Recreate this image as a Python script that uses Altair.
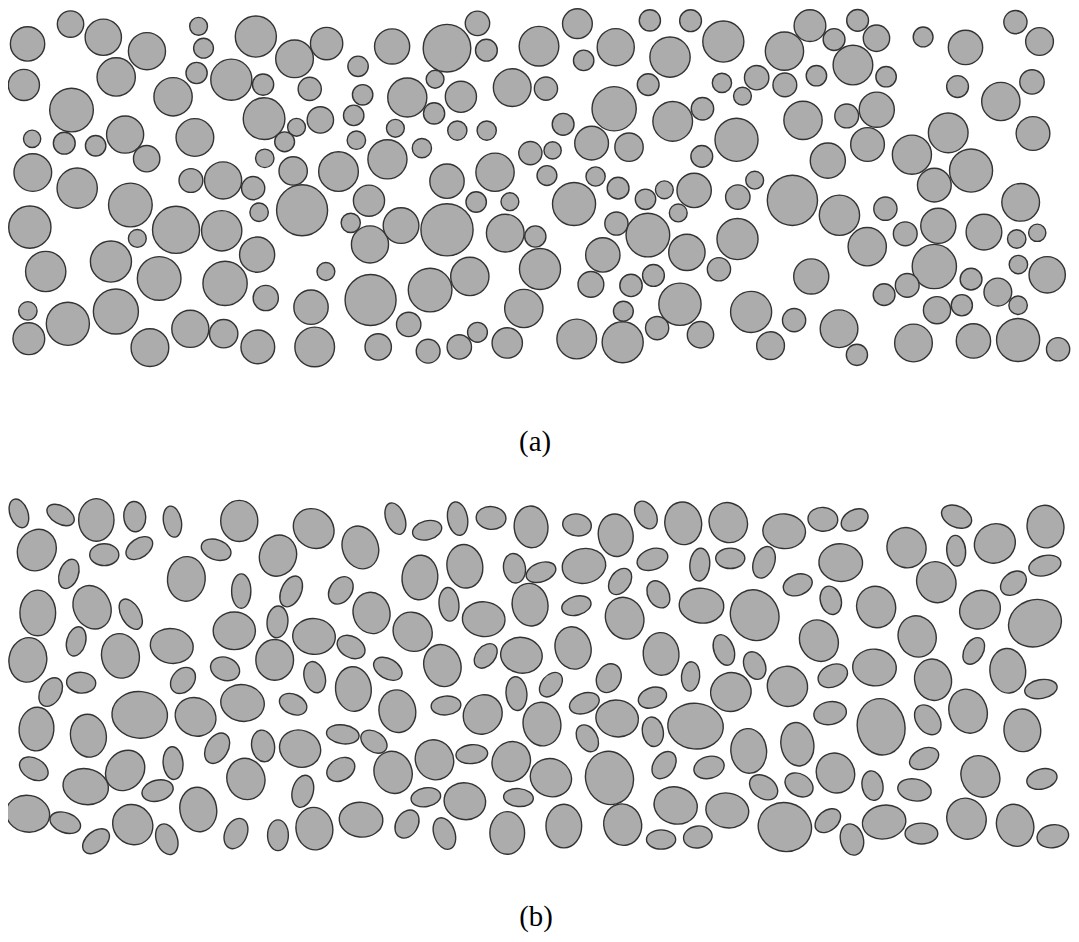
import altair as alt
import pandas as pd

# ---------------- panel (a): circles (centre x, centre y, radius) in image px
a_x = [27.7, 71, 104, 148, 200, 205, 257.7, 24, 117, 198, 233, 265, 174.3, 72, 266, 32.3, 64.7, 96.3, 126, 196.3,
       147.7, 266.7, 33, 77.7, 192.3, 224.7, 255, 131.3, 30, 177.3, 223.3, 261, 138.3, 46, 111.7, 160.3, 226.7, 259,
       267.7, 28, 68.3, 116.7, 29, 151, 191.7, 225.3, 259.7,
       296.7, 329, 395, 450.3, 481, 490, 543, 312, 360.7, 365.3, 410.3, 438.3, 464.3, 437.3, 516, 550, 298.7, 322.7,
       356.3, 398.3, 460.7, 490.3, 286.7, 359, 295.3, 341, 390.3, 425, 450.3, 498.7, 534.3, 551, 304.3, 371.7, 353.3,
       372.7, 404, 450.3, 479.7, 513.7, 509, 539.3, 328.3, 373.3, 433.3, 473.3, 544, 527.7, 313.3, 317, 411.7, 381,
       431.3, 462.7, 481, 511,
       581.7, 620.3, 588, 654.7, 695.7, 675, 728.7, 790.3, 816, 653, 618.7, 727.3, 762.3, 748, 790.7, 822.5, 567.3,
       677.7, 707.7, 809, 596, 633.7, 556.7, 742, 707, 834, 600, 622.7, 578.3, 650.3, 669.3, 699.3, 683.3, 743.3,
       760.3, 798.3, 621, 652.7, 692, 743, 607.3, 595.3, 635.7, 658.3, 724.3, 817.3, 628, 685, 756.7, 800, 581,
       627.3, 662, 705.7, 776.3,
       864, 840.3, 883, 859.3, 892.7, 930, 972.7, 1023, 1047.3, 964.7, 1008.3, 1039.7, 853, 883.3, 874, 955.3,
       1040.7, 918.7, 978.3, 941.3, 845.7, 892, 1028.3, 873.7, 912, 945.3, 991.3, 1024.3, 1045, 941.3, 1026, 1055,
       890.7, 914, 978.3, 1005.3, 1025.7, 944, 969, 845.3, 863.3, 920.3, 980.7, 1025.7, 1066]
a_y = [40.7, 20.7, 34, 48, 23, 45, 33.3, 82, 74, 70, 76.7, 81.7, 94, 107.3, 116, 136.3, 140.7, 143.3, 132, 135,
       156.3, 156, 170.3, 186, 178.3, 178.3, 186, 203, 225.3, 228, 229, 210.3, 236.7, 270, 260, 277, 282, 253,
       296.7, 309.7, 322.7, 310.3, 337.7, 346.7, 327.7, 332.7, 346,
       55.7, 40.3, 43.3, 45, 20, 47, 43, 86, 63.3, 92, 94.7, 76.3, 94, 110.7, 84.7, 85.7, 124.7, 117.3,
       112.7, 125.7, 128, 128, 139.3, 137.7, 168.7, 169.3, 157, 145.7, 179, 170, 150.7, 173.3, 208.3, 198.7, 221,
       242.7, 223.7, 228, 200, 199.7, 231.3, 234.7, 270, 298.7, 288.7, 275, 267.5, 307.3, 306, 346, 323.3, 346,
       350.3, 346, 331.3, 342,
       20.3, 44, 57.3, 17, 17.3, 54, 38.3, 48, 22.3, 81.7, 106, 80, 74.7, 93.3, 82, 72.7, 121.7,
       118.7, 106, 117.7, 140.7, 144.7, 148, 137.3, 154, 158.3, 174.3, 186, 202, 197.3, 187.7, 188.3, 211, 195,
       178, 198.3, 221.7, 233.3, 250.7, 237.3, 253.3, 283, 284, 274, 267.7, 275, 310, 303, 310.7, 319, 338,
       341.3, 327, 333.7, 344.7,
       17, 36.3, 35, 62, 73.7, 33.7, 44.3, 18.7, 38.3, 83.7, 98.7, 79, 113.3, 107, 142, 130.3,
       131, 152.3, 168.3, 183, 213.3, 206.7, 200.3, 245, 232, 224, 230.3, 237.3, 231, 265, 263, 273.3,
       293.3, 284, 277.7, 290.7, 304, 309, 304, 327.7, 354, 342, 340, 339, 348.3]
a_r = [17.3, 13.3, 18.3, 18.7, 9, 10, 20.7, 15.7, 19.3, 10.7, 20.7, 10.7, 19.3, 22, 21, 8.7, 11, 10.3, 18.7, 19,
       13.3, 9.3, 19, 20.3, 12, 18.7, 11.7, 22, 21.3, 23.7, 20.3, 9.3, 9, 20.3, 20.7, 22, 22.3, 17.7,
       12.7, 9.3, 21.7, 22.7, 16, 19, 18.7, 14.3, 17,
       19, 16.3, 17.7, 24, 12.3, 11, 20, 11.7, 10.3, 10.3, 19.7, 9, 15.7, 10.7, 19, 11.7, 9, 13.3,
       10.3, 9, 9.7, 9.7, 10, 9.3, 14.3, 20, 19.7, 9.7, 17.3, 19.3, 11.7, 10, 25.7, 15.7, 9.7,
       18.7, 18, 26.3, 10.3, 9, 19, 10.7, 9, 25.7, 22, 19.3, 20.7, 19.3, 17.3, 20, 12.3, 13.3,
       12, 12.3, 10, 15.3,
       15, 18.7, 10.3, 10.7, 11, 20.3, 20.7, 19.3, 16, 11, 22.3, 9.7, 12.3, 9, 12, 10.3, 11,
       20, 11.3, 19.3, 17, 14.3, 8.7, 21.7, 11, 17.7, 9.7, 11, 21.7, 10.3, 9, 17.3, 9, 12.3,
       9, 25.3, 11.7, 22, 18.3, 20.7, 17.3, 13, 11.3, 11, 11.7, 17.7, 10, 21.3, 20.7, 11.7, 20,
       20.7, 11.7, 13.3, 14,
       11, 11, 13.3, 20, 10.3, 10, 17.3, 11.7, 14, 11, 19.3, 12.3, 12, 17.7, 17, 20,
       17, 19.7, 21.7, 17, 20.3, 11.7, 19, 19.3, 12, 17.7, 18, 9.3, 8.7, 22.3, 9.3, 18.3,
       11, 12, 11, 14, 9.3, 13.7, 10.7, 19, 10.7, 19, 17.3, 21.7, 11.7]

# ---------------- panel (b): ellipses (centre, semi-major, semi-minor, clockwise angle of major axis)
b_x = [19, 61, 97, 135.7, 173.7, 241, 37, 105, 140.3, 217.7, 69.3, 187.7, 243, 280, 38, 92.7, 131.7, 236, 279.5,
       76.7, 28, 121.3, 173, 226.7, 276.7, 51, 81.7, 184.3, 244.3, 140.7, 197, 36.7, 89, 218.7, 265, 34, 174.3,
       126, 86.3, 158.7, 247.7, 28, 65.7, 133.7, 199.7, 96.7, 168, 237.7, 280,
       316, 363, 398.3, 430.3, 461, 494.7, 535, 293.3, 343.3, 423, 468.3, 518.3, 545, 316.3, 374.3, 452.3, 487.3,
       534, 415.7, 353.7, 445.7, 489.3, 525.3, 317, 390.7, 356, 295.3, 400.3, 449.3, 486.3, 520.3, 302.3, 345.3,
       376.7, 343.3, 396, 437.7, 475.3, 515, 305, 429, 468.3, 522.3, 316.7, 363.7, 410, 447.7, 511,
       555, 546, 555,
       581.3, 620.3, 650.7, 688.3, 733.7, 790, 588.3, 657.3, 705, 735.7, 769.7, 624.7, 803.7, 580.7, 629.3, 663.3,
       706.7, 760.3, 825, 577.3, 666, 729.3, 760.3, 613.3, 695.7, 736.3, 793.3, 588.7, 621.7, 657.3, 700.7, 591.7,
       657.7, 754.3, 803.3, 614, 669, 714.3, 769.3, 805, 680.7, 732.7, 568, 627.3, 666, 703, 790.7,
       829, 861, 913.3, 963.7, 963.3, 1002.3, 1053.3, 847, 943.3, 1021, 1052.7, 837, 882.7, 987.3, 1042.7, 924,
       981, 839, 881, 940, 1015.3, 1048.7, 836.3, 887.7, 934.7, 975.3, 1030, 841.7, 931, 987.7, 879, 921.3,
       1049.7, 834, 858.3, 890.7, 928.3, 973.7, 1022.7, 1060.7]
b_y = [515.7, 517.3, 522.3, 519, 524, 523.3, 552.7, 557.3, 550.7, 552.3, 576.7, 581.7, 594, 558.3, 616, 610.3,
       617.3, 634, 625, 644.7, 663.3, 659.3, 649.3, 672.3, 663.3, 695.7, 686.3, 684, 706.7, 718.7, 720.7, 733,
       739.7, 752.3, 750, 773, 767.3, 774.7, 791, 795, 783.3, 818.3, 827.3, 829.3, 814, 846, 844, 838.3, 840,
       531, 550, 521, 532.7, 521, 520.3, 529.3, 594.3, 593.3, 580.3, 569, 571, 575, 639.7, 616, 607.3, 622.3,
       607.7, 635, 650.3, 669, 659.3, 658.7, 680.7, 672.3, 692.7, 708, 715, 709.3, 718.3, 697.3, 752.7, 738.3,
       745.7, 773.7, 776.7, 764, 758.3, 765.7, 795.7, 801.7, 805.7, 802, 833.3, 824.3, 828.7, 838.3, 837.7,
       688.3, 728, 782,
       527.3, 537.7, 517.3, 525.7, 525, 533.7, 568.7, 562, 567.3, 561, 565, 584.3, 587.7, 608.7, 621.3, 597.3,
       608.7, 618.3, 644, 651.3, 657.3, 653.3, 669, 681.7, 680, 695.7, 690, 707, 722.3, 701.3, 730, 742.3,
       735.7, 755, 748.3, 782.3, 769.3, 771.7, 791.7, 789.3, 810, 815, 830.7, 829.3, 844.3, 841.7, 831.7,
       521.7, 522.3, 550.3, 519, 553.3, 546, 529, 565.3, 585, 586, 568.3, 603.3, 610, 612.7, 626.3, 639.7,
       654.3, 679.3, 671, 683.3, 674.3, 692.7, 717, 730.7, 723.7, 715, 734.3, 777.3, 762.7, 780.7, 790, 794.3,
       783.3, 825.3, 844.3, 826.7, 838.3, 823.3, 830, 841]
b_major = [15, 15, 21.5, 15.3, 15.8, 20.7, 21.5, 14.7, 15, 15.5, 15.3, 22.5, 17.3, 21, 23, 22.5, 16.7, 21.3, 16,
           15, 22.5, 22.5, 21.7, 15, 20.5, 15.5, 14.7, 14.5, 22, 28, 21, 22, 21.7, 16.5, 16, 15.5, 16.5, 21.5,
           23, 16, 21, 22, 16, 21, 22.5, 15.5, 16, 16, 15.5,
           21.5, 22, 16.5, 15, 17, 15, 21, 16.5, 15, 22.5, 22, 15, 15.5, 21.5, 21, 17, 21.5, 21.5, 20.5, 15, 21.5,
           14, 21, 16, 15.5, 22.5, 14.5, 21.5, 15, 20.5, 17, 21, 16.5, 14.5, 15, 21.5, 20.5, 16, 20.5, 16.5, 15,
           21, 15, 21.5, 22, 15, 16.5, 21.5,
           14, 22, 21,
           14.5, 21.5, 15, 21.5, 20.5, 21.5, 22, 16, 16.5, 14.7, 16.5, 14.5, 15, 15, 21.5, 14.5, 22.5, 26, 21.5,
           21.5, 21.5, 16, 14.5, 15, 14.8, 20.5, 20.5, 15.5, 21.5, 14.7, 28, 14.5, 15, 22.5, 22, 27, 15, 15.5,
           15.5, 15, 22, 21.7, 22, 21, 14.7, 14.5, 27,
           15, 14.5, 20.5, 16, 15.5, 21, 21.5, 22, 21, 14.5, 16.5, 14.5, 21, 21, 27, 21, 14.5, 15.5, 22, 21,
           22.5, 16.5, 16.5, 28.5, 16.5, 22.5, 21.5, 20.5, 15.5, 21.5, 15, 17, 15.5, 14.5, 16, 22, 16.5, 21,
           21.5, 16]
b_minor = [9, 9, 17.8, 11, 9, 18.7, 19, 11, 9.5, 10, 9.5, 19, 9.7, 18.5, 18, 18.5, 9.5, 19, 10.5, 9.5, 19, 19,
           17.5, 11.5, 19, 10.5, 10.5, 11, 18.5, 23.5, 19, 17.5, 18, 11, 11.5, 10.5, 10, 18.5, 18, 10.5, 19, 18.5,
           10, 19.5, 18.5, 10, 10.5, 11, 10.5,
           19, 18, 9.5, 9.5, 10, 11.5, 17, 10, 11, 18, 18, 11, 9.5, 18, 18.5, 10, 17.5, 18, 19, 10.5, 18.5, 9.5,
           18, 10.5, 10, 18, 10, 18.5, 9.5, 19, 10.5, 18.5, 9.5, 10, 11, 19, 19, 9.5, 19, 10.5, 9.5, 18.5, 9,
           18.5, 17.5, 11, 10.5, 17.5,
           9.5, 19, 19,
           11, 17.5, 10, 18.5, 19, 17.5, 17.5, 10.5, 10, 10.3, 10.5, 10, 10.5, 9.5, 19, 10.5, 17.5, 24, 19, 18,
           18, 10, 10.5, 12, 9.2, 19.5, 20, 10, 18.5, 10, 23, 10, 10.5, 18, 16.5, 24, 10.5, 11, 11, 11, 18.5,
           17.5, 18, 19, 9.7, 11, 24.5,
           12, 10, 19.5, 10.5, 9.5, 19.5, 18.5, 19, 19.5, 10.5, 10, 10.5, 19.5, 19, 23.5, 19, 9.5, 11, 18.5,
           18.5, 18, 9.5, 11.5, 24, 11.5, 19, 18.5, 19, 10, 19, 10.5, 11, 10, 10, 11.5, 17, 10.5, 19.5, 18.5,
           11.5]
b_angle = [70, 30, 90, 85, 80, 90, 120, 0, 145, 20, 110, 95, 90, 110, 90, 65, 60, 0, 95, 105, 100, 80, 10, 20,
           90, 120, 5, 130, 10, 5, 30, 95, 80, 120, 80, 30, 85, 130, 10, 165, 70, 10, 20, 45, 80, 140, 70, 115, 90,
           40, 70, 70, 165, 80, 5, 85, 115, 125, 95, 80, 80, 160, 5, 75, 85, 5, 80, 45, 30, 70, 130, 10, 75, 30, 85,
           25, 80, 175, 130, 85, 20, 8, 35, 150, 70, 60, 175, 120, 105, 170, 10, 5, 80, 5, 120, 70, 90,
           130, 80, 20,
           10, 80, 60, 80, 60, 5, 170, 160, 95, 0, 110, 125, 160, 165, 65, 60, 5, 60, 60, 75, 85, 70, 65, 115, 95,
           160, 40, 160, 10, 160, 5, 60, 80, 85, 80, 75, 125, 165, 35, 30, 15, 10, 90, 75, 0, 170, 15,
           5, 150, 60, 25, 85, 150, 80, 5, 60, 140, 165, 75, 70, 150, 160, 70, 120, 155, 5, 75, 85, 170, 170, 80,
           55, 70, 85, 60, 155, 60, 80, 10, 165, 140, 75, 170, 0, 60, 70, 170]

# ---------------- captions
label_text = ["(a)", "(b)"]
label_x = [539, 540]
label_y = [443, 926]

FILL = "#acacac"
EDGE = "#333333"

circles = pd.DataFrame({"x": a_x, "y": a_y, "r": a_r})
ellipses = pd.DataFrame({"x": b_x, "y": b_y, "a": b_major, "b": b_minor, "ang": b_angle})
ellipses["path"] = [
    f"M {-a} 0 A {a} {b} 0 1 1 {a} 0 A {a} {b} 0 1 1 {-a} 0 Z"
    for a, b in zip(ellipses["a"], ellipses["b"])
]
labels = pd.DataFrame({"x": label_x, "y": label_y, "t": label_text})

xs = alt.Scale(domain=[8, 1079], range=[0, 1071], nice=False, zero=False)
ys = alt.Scale(domain=[8, 370, 495, 870, 940], range=[0, 362, 485, 860, 926], nice=False, zero=False)
X = alt.X("x:Q", scale=xs, axis=None)
Y = alt.Y("y:Q", scale=ys, axis=None)

circ = alt.Chart(circles).transform_calculate(s="4*datum.r*datum.r").mark_circle(
    fill=FILL, stroke=EDGE, strokeWidth=1.4, opacity=1
).encode(x=X, y=Y, size=alt.Size("s:Q", scale=None))

ell = alt.Chart(ellipses).mark_point(
    filled=True, fill=FILL, stroke=EDGE, strokeWidth=1.4, opacity=1, size=4
).encode(
    x=X, y=Y,
    shape=alt.Shape("path:N", scale=None),
    angle=alt.Angle("ang:Q", scale=None),
)

txt = alt.Chart(labels).mark_text(
    font="Liberation Serif", fontSize=29, color="black", align="center", baseline="middle"
).encode(x=X, y=Y, text="t:N")

chart = alt.layer(circ, ell, txt).properties(
    width=1071, height=926, padding=0, background="white",
    autosize=alt.AutoSizeParams(type="none"),
).configure_view(stroke=None)

chart.save("out.html", embed_options={"renderer": "svg", "actions": False})
